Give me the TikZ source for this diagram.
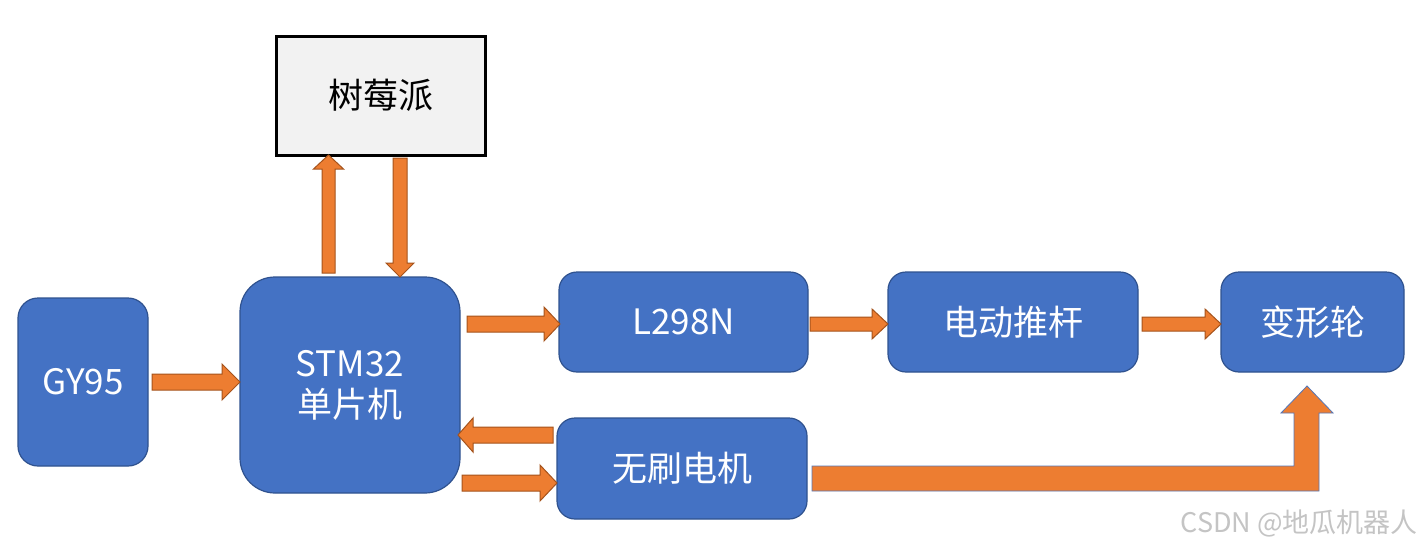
\documentclass[tikz,border=0pt]{standalone}
\usepackage{fontspec}
\setmainfont{Noto Sans CJK SC}
\definecolor{boxblue}{HTML}{4472C4}
\definecolor{boxedge}{HTML}{2F528F}
\definecolor{arrorange}{HTML}{ED7D31}
\definecolor{arredge}{HTML}{A5531C}
\definecolor{bentedge}{HTML}{5577B8}
\definecolor{graybox}{HTML}{F2F2F2}
\definecolor{wmgray}{HTML}{C4C4C4}
\newcommand\HArrow[6]{\draw[barrow] (#1,#3-#4) -- (#2-#6,#3-#4) -- (#2-#6,#3-#5) -- (#2,#3) -- (#2-#6,#3+#5) -- (#2-#6,#3+#4) -- (#1,#3+#4) -- cycle;}
\newcommand\VArrow[6]{\draw[barrow] (#1-#4,#2) -- (#1-#4,#3-#6) -- (#1-#5,#3-#6) -- (#1,#3) -- (#1+#5,#3-#6) -- (#1+#4,#3-#6) -- (#1+#4,#2) -- cycle;}
\begin{document}
\begin{tikzpicture}[x=1pt,y=-1pt,
  bluebox/.style={draw=boxedge,line width=1.2pt,fill=boxblue,text=white,inner sep=0pt,font=\fontsize{35}{41}\selectfont,align=center},
  barrow/.style={draw=arredge,line width=1pt,fill=arrorange,line join=miter},
  bentarrow/.style={draw=bentedge,line width=0.8pt,fill=arrorange}]
\useasboundingbox (0,0) rectangle (1424,549);
\fill[white] (0,0) rectangle (1424,549);

\node[bluebox,rounded corners=20pt,minimum width=130pt,minimum height=168pt] (gy) at (83,382) {GY95};
\node[bluebox,rounded corners=35pt,minimum width=220pt,minimum height=216pt] (stm) at (350,385) {STM32\\单片机};
\node[draw=black,line width=3pt,fill=graybox,inner sep=0pt,minimum width=209pt,minimum height=119pt,font=\fontsize{35}{41}\selectfont] (pi) at (380.5,95.5) {树莓派};
\node[bluebox,rounded corners=18pt,minimum width=249pt,minimum height=100pt] (l298) at (683.5,322) {L298N};
\node[bluebox,rounded corners=18pt,minimum width=250pt,minimum height=100pt] (push) at (1013,322) {电动推杆};
\node[bluebox,rounded corners=18pt,minimum width=183pt,minimum height=100pt] (wheel) at (1312.5,322) {变形轮};
\node[bluebox,rounded corners=18pt,minimum width=250pt,minimum height=101pt] (bldc) at (682,468.5) {无刷电机};

% block arrows
\HArrow{152}{240}{382}{8}{18}{18}
\VArrow{328.5}{273}{155}{6.5}{15}{-14}
\VArrow{400}{158}{277}{7}{14}{14}
\HArrow{467}{560}{324}{8}{17}{16}
\HArrow{553}{458}{435}{8}{17}{-15}
\HArrow{462}{557}{483}{8}{18}{17}
\HArrow{810}{888}{324}{7}{15}{16}
\HArrow{1142}{1221}{324}{7}{15}{16}
\draw[bentarrow] (812,466) -- (1294,466) -- (1294,413) -- (1281,413) -- (1307,386) -- (1333,413) -- (1319,413) -- (1319,491) -- (812,491) -- cycle;

\node[anchor=base east,text=wmgray,inner sep=0pt,font=\fontsize{27}{30}\selectfont] (wm) at (1418,532) {CSDN @地瓜机器人};
\end{tikzpicture}
\end{document}
